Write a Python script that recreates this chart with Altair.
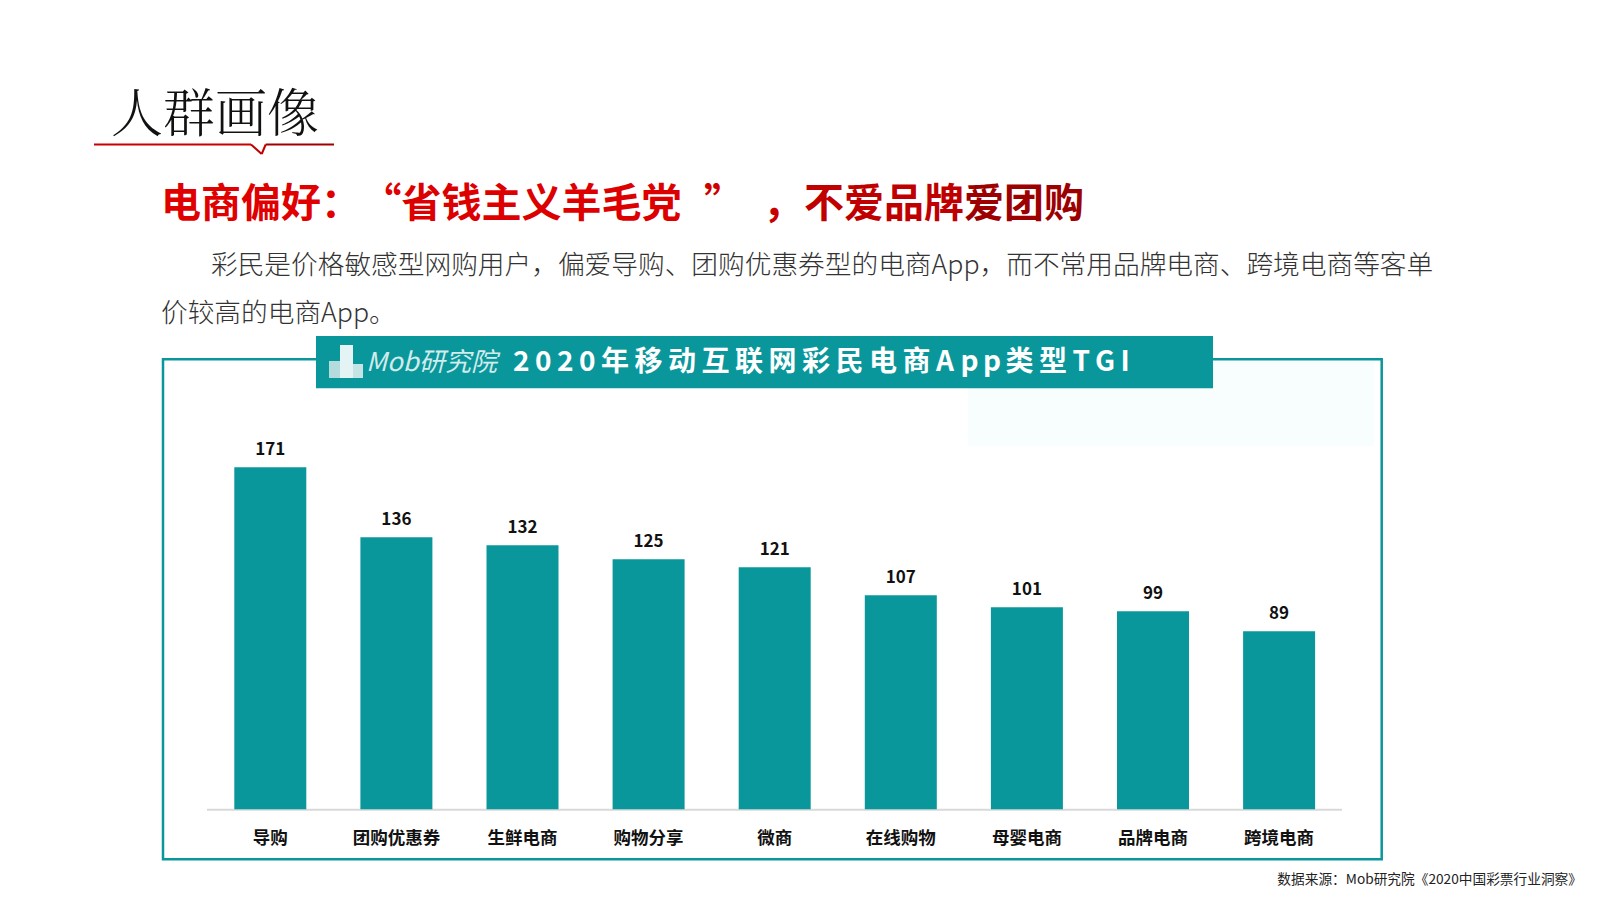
import altair as alt
import pandas as pd

# ---------------- data ----------------
categories = ["导购", "团购优惠券", "生鲜电商", "购物分享", "微商", "在线购物", "母婴电商", "品牌电商", "跨境电商"]
tgi_values = [171, 136, 132, 125, 121, 107, 101, 99, 89]

page_title = "人群画像"
headline_parts = ["电商偏好：", "“", "省钱主义羊毛党", "”", "，", "不爱品牌", "爱团购"]
body_lines = [
    "彩民是价格敏感型网购用户，偏爱导购、团购优惠券型的电商App，而不常用品牌电商、跨境电商等客单",
    "价较高的电商App。",
]
chart_title = "2020年移动互联网彩民电商App类型TGI"
logo_text = "Mob研究院"
source_text = "数据来源：Mob研究院《2020中国彩票行业洞察》"

# ---------------- style ----------------
TEAL = "#0a979b"
FONT = "Noto Sans CJK SC"
one = pd.DataFrame({"k": [0]})


def rect(x, x2, y, y2, **mk):
    return alt.Chart(one).mark_rect(**mk).encode(
        x=alt.value(x), x2=alt.value(x2), y=alt.value(y), y2=alt.value(y2)
    )


def rule(x, x2, y, y2, **mk):
    return alt.Chart(one).mark_rule(**mk).encode(
        x=alt.value(x), x2=alt.value(x2), y=alt.value(y), y2=alt.value(y2)
    )


def txt(s, x, y, **mk):
    base = dict(font=FONT, baseline="middle", align="left")
    base.update(mk)
    return alt.Chart(one).mark_text(text=s, **base).encode(x=alt.value(x), y=alt.value(y))


layers = []

# page title + red underline with notch
layers.append(txt(page_title, 103, 108, fontSize=52, fontWeight=300, color="#111111",
                  font="Noto Serif CJK SC, Noto Sans CJK SC"))
layers.append(rule(86, 243, 136.5, 136.5, color="#c80000", strokeWidth=2))
layers.append(rule(243, 253.7, 136.5, 146, color="#c00000", strokeWidth=2))
layers.append(rule(253.7, 257.7, 146, 136.5, color="#c00000", strokeWidth=2))
layers.append(rule(257.7, 326, 136.5, 136.5, color="#a00000", strokeWidth=2))

# red headline
HY = 197
layers.append(txt(headline_parts[0], 153, HY, fontSize=40, fontWeight="bold", color="#e00000"))
layers.append(txt(headline_parts[1], 353.5, HY, fontSize=40, fontWeight="bold", color="#e00000"))
layers.append(txt(headline_parts[2], 393.6, HY, fontSize=40, fontWeight="bold", color="#dc0000"))
layers.append(txt(headline_parts[3], 716, HY, fontSize=40, fontWeight="bold", color="#d00000", align="center"))
layers.append(txt(headline_parts[4], 775, HY, fontSize=40, fontWeight="bold", color="#c80000", align="center"))
layers.append(txt(headline_parts[5], 796, HY, fontSize=40, fontWeight="bold", color="#c00000"))
layers.append(txt(headline_parts[6], 956, HY, fontSize=40, fontWeight="bold", color="#9c0000"))

# body text
layers.append(txt(body_lines[0], 203, 258, fontSize=26.7, fontWeight=300, color="#333333"))
layers.append(txt(body_lines[1], 153, 306, fontSize=26.7, fontWeight=300, color="#333333"))

# faint tint inside frame
layers.append(rect(960, 1366, 354, 438, color="#f8fdfd"))
# frame
layers.append(rect(155, 1373.7, 351.3, 851.3, fillOpacity=0, stroke=TEAL, strokeWidth=2.5))
# banner
layers.append(rect(308, 1205, 328, 380.3, color=TEAL))

# logo building + text
layers.append(rect(321, 332, 353, 370, color="#b5dcdd"))
layers.append(rect(332, 345, 337, 370, color="#e4f3f3"))
layers.append(rect(345, 355, 356, 370, color="#c4e4e5"))
layers.append(txt(logo_text, 358, 355, fontSize=26, fontStyle="italic", color="#d2ebec"))

# banner title, character by character to mimic letter spacing
widths = {}
for ch in chart_title:
    if ch.isdigit():
        widths[ch] = 16.5
    elif ch in "A":
        widths[ch] = 19
    elif ch in "p":
        widths[ch] = 17
    elif ch == "T":
        widths[ch] = 17
    elif ch == "G":
        widths[ch] = 20
    elif ch == "I":
        widths[ch] = 8
    else:
        widths[ch] = 28
cx = 505.0
for ch in chart_title:
    layers.append(txt(ch, cx, 354.5, fontSize=28, fontWeight="bold", color="white"))
    cx += widths[ch] + 5.5

# ---------------- bars ----------------
df = pd.DataFrame({"cat": categories, "val": tgi_values})
xs = alt.X("cat:N", sort=categories, axis=None,
           scale=alt.Scale(domain=categories, range=[199.25, 1334.15],
                           paddingInner=0.429, paddingOuter=0.2145))
ys = alt.Y("val:Q", axis=None,
           scale=alt.Scale(domain=[0, 200], range=[801.3, 401.3], nice=False, zero=True))

layers.append(rule(199, 1334, 801.8, 801.8, color="#d9d9d9", strokeWidth=2))
layers.append(alt.Chart(df).mark_bar(color=TEAL).encode(x=xs, y=ys))
layers.append(alt.Chart(df).mark_text(font=FONT, fontSize=17, fontWeight="bold", color="#111111",
                                      baseline="middle", dy=-17.5).encode(x=xs, y=ys, text="val:Q"))
layers.append(alt.Chart(df).mark_text(font=FONT, fontSize=17.5, fontWeight="bold", color="#111111",
                                      baseline="middle").encode(x=xs, y=alt.value(831.3), text="cat:N"))

# source
layers.append(txt(source_text, 1574, 872, fontSize=13.7, color="#222222", align="right"))

chart = alt.layer(*layers).properties(
    width=1576, height=882, autosize=alt.AutoSizeParams(type="none"), padding=0
).configure_view(strokeWidth=0)

chart.save("out.html", embed_options={"renderer": "svg", "actions": False})
